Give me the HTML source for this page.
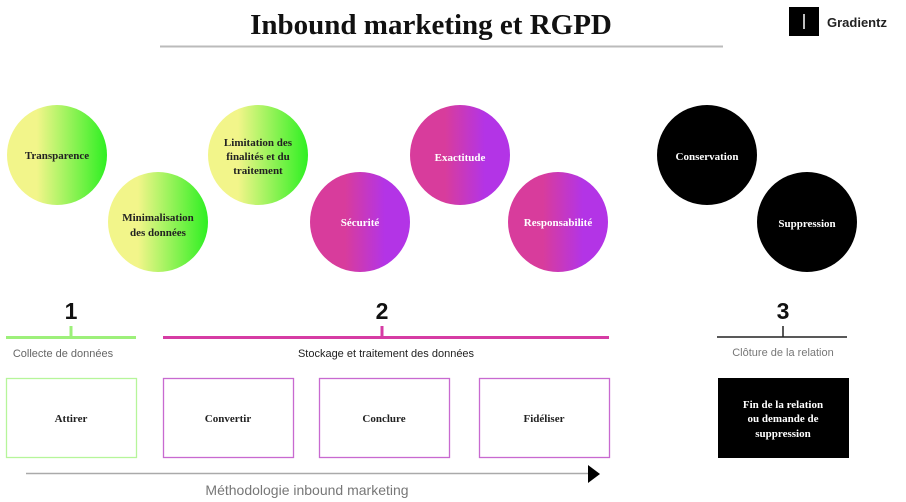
<!DOCTYPE html>
<html><head><meta charset="utf-8"><style>
html,body{margin:0;padding:0;background:#fff;}
svg{display:block}
.s{font-family:"Liberation Serif",serif;font-weight:bold;}
.a{font-family:"Liberation Sans",sans-serif;}
</style></head><body>
<svg width="906" height="502" viewBox="0 0 906 502" xmlns="http://www.w3.org/2000/svg">
<defs>
<linearGradient id="g" x1="0" x2="1" y1="0" y2="0"><stop offset="0.3" stop-color="#f2f58a"/><stop offset="1" stop-color="#2ef022"/></linearGradient>
<linearGradient id="p" x1="0" x2="1" y1="0" y2="0"><stop offset="0.35" stop-color="#d83c9c"/><stop offset="0.75" stop-color="#b334e6"/></linearGradient>
</defs>
<text x="431" y="34" text-anchor="middle" class="s" font-size="29" fill="#111">Inbound marketing et RGPD</text>
<line x1="160" y1="46.5" x2="723" y2="46.5" stroke="#bbb" stroke-width="2"/>
<rect x="789" y="7" width="30" height="29" fill="#000"/>
<line x1="804" y1="14" x2="804" y2="29" stroke="#fff" stroke-width="1.5"/>
<text x="827" y="27" class="a" font-weight="bold" font-size="13" fill="#222">Gradientz</text>

<g class="s" font-size="11" text-anchor="middle">
<circle cx="57" cy="155" r="50" fill="url(#g)"/>
<text x="57" y="159" fill="#222">Transparence</text>
<circle cx="158" cy="222" r="50" fill="url(#g)"/>
<text x="158" y="221" fill="#222">Minimalisation</text><text x="158" y="236" fill="#222">des données</text>
<circle cx="258" cy="155" r="50" fill="url(#g)"/>
<text x="258" y="146" fill="#222">Limitation des</text><text x="258" y="160" fill="#222">finalités et du</text><text x="258" y="174" fill="#222">traitement</text>
<circle cx="360" cy="222" r="50" fill="url(#p)"/>
<text x="360" y="226" fill="#fff">Sécurité</text>
<circle cx="460" cy="155" r="50" fill="url(#p)"/>
<text x="460" y="161" fill="#fff">Exactitude</text>
<circle cx="558" cy="222" r="50" fill="url(#p)"/>
<text x="558" y="226" fill="#fff">Responsabilité</text>
<circle cx="707" cy="155" r="50" fill="#000"/>
<text x="707" y="160" fill="#fff">Conservation</text>
<circle cx="807" cy="222" r="50" fill="#000"/>
<text x="807" y="227" fill="#fff">Suppression</text>
</g>

<g class="a" font-weight="bold" font-size="23" text-anchor="middle" fill="#111">
<text x="71" y="319">1</text><text x="382" y="319">2</text><text x="783" y="319">3</text>
</g>
<line x1="6" y1="337.5" x2="136" y2="337.5" stroke="#9df07a" stroke-width="3"/>
<line x1="71" y1="326" x2="71" y2="337" stroke="#9df07a" stroke-width="3"/>
<line x1="163" y1="337.5" x2="609" y2="337.5" stroke="#d63ca4" stroke-width="3"/>
<line x1="382" y1="326" x2="382" y2="337" stroke="#d63ca4" stroke-width="3"/>
<line x1="717" y1="337" x2="847" y2="337" stroke="#222" stroke-width="1.5"/>
<line x1="783" y1="326" x2="783" y2="337" stroke="#222" stroke-width="1.5"/>
<g class="a" font-size="11" text-anchor="middle">
<text x="63" y="357" fill="#666">Collecte de données</text>
<text x="386" y="357" fill="#222">Stockage et traitement des données</text>
<text x="783" y="356" fill="#777">Clôture de la relation</text>
</g>

<g fill="none" stroke-width="1.3">
<rect x="6.5" y="378.5" width="130" height="79" stroke="#b6f59a"/>
<rect x="163.5" y="378.5" width="130" height="79" stroke="#c86ad0"/>
<rect x="319.5" y="378.5" width="130" height="79" stroke="#c86ad0"/>
<rect x="479.5" y="378.5" width="130" height="79" stroke="#c86ad0"/>
</g>
<rect x="718" y="378" width="131" height="80" fill="#000"/>
<g class="s" font-size="11" text-anchor="middle">
<text x="71" y="422" fill="#222">Attirer</text>
<text x="228" y="422" fill="#222">Convertir</text>
<text x="384" y="422" fill="#222">Conclure</text>
<text x="544" y="422" fill="#222">Fidéliser</text>
<text x="783" y="408" fill="#fff">Fin de la relation</text>
<text x="783" y="422" fill="#fff">ou demande de</text>
<text x="783" y="437" fill="#fff">suppression</text>
</g>
<line x1="26" y1="473.5" x2="592" y2="473.5" stroke="#aaa" stroke-width="1.5"/>
<polygon points="588,465 600,474 588,483" fill="#000"/>
<text x="307" y="495" text-anchor="middle" class="a" font-size="14" fill="#777">Méthodologie inbound marketing</text>
</svg>
</body></html>
